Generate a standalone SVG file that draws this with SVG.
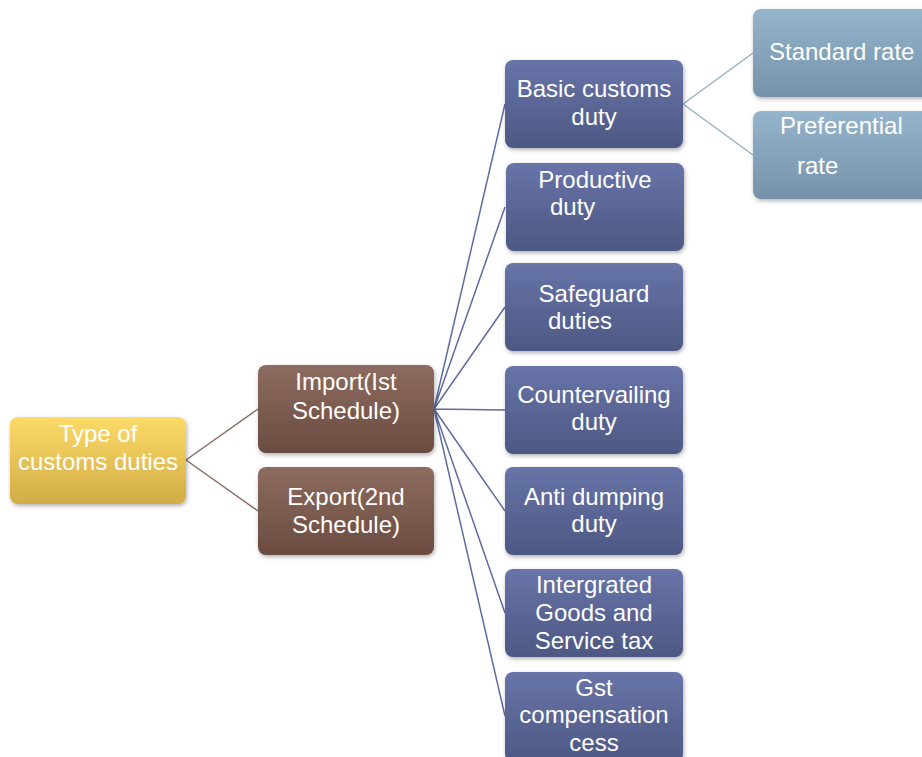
<svg xmlns="http://www.w3.org/2000/svg" width="922" height="757" viewBox="0 0 922 757">
  <defs>
    <linearGradient id="gYellow" x1="0" y1="0" x2="0" y2="1">
      <stop offset="0" stop-color="#fcda66"/>
      <stop offset="1" stop-color="#d2ac47"/>
    </linearGradient>
    <linearGradient id="gBrown" x1="0" y1="0" x2="0" y2="1">
      <stop offset="0" stop-color="#8d6c60"/>
      <stop offset="1" stop-color="#6b4b40"/>
    </linearGradient>
    <linearGradient id="gBlue" x1="0" y1="0" x2="0" y2="1">
      <stop offset="0" stop-color="#6874a8"/>
      <stop offset="1" stop-color="#4d5883"/>
    </linearGradient>
    <linearGradient id="gSky" x1="0" y1="0" x2="0" y2="1">
      <stop offset="0" stop-color="#95b5cd"/>
      <stop offset="1" stop-color="#7592aa"/>
    </linearGradient>
    <filter id="shadow" x="-10%" y="-10%" width="125%" height="130%">
      <feDropShadow dx="1" dy="2" stdDeviation="2" flood-color="#000" flood-opacity="0.3"/>
    </filter>
  </defs>
  <style>
    .box { filter: url(#shadow); }
    .lbl { font-family: "Liberation Sans", Arial, sans-serif; font-size: 24px; fill: #ffffff; text-anchor: middle; }
    .lft { text-anchor: start; }
    .c-brown { stroke: #8b6b61; stroke-width: 1.5; fill: none; }
    .c-blue { stroke: #5f6ba1; stroke-width: 1.5; fill: none; }
    .c-sky { stroke: #96b3c9; stroke-width: 1.5; fill: none; }
  </style>

  <rect width="922" height="757" fill="#ffffff"/>

  <g id="connectors">
    <path class="c-brown" d="M186,460 L258,409 M186,460 L258,511"/>
    <path class="c-blue" d="M434,409 L505,104 M434,409 L505,207 M434,409 L505,307 M434,409 L505,410 M434,409 L505,511 M434,409 L505,613 M434,409 L505,716"/>
    <path class="c-sky" d="M683,104 L753,53 M683,104 L753,155"/>
  </g>

  <g id="root">
    <rect class="box" x="10" y="417" width="176" height="87" rx="8" fill="url(#gYellow)"/>
    <text class="lbl" x="98" y="442">Type of</text>
    <text class="lbl" x="98" y="470">customs duties</text>
  </g>

  <g id="import">
    <rect class="box" x="258" y="365" width="176" height="88" rx="8" fill="url(#gBrown)"/>
    <text class="lbl" x="346" y="390">Import(Ist</text>
    <text class="lbl" x="346" y="419">Schedule)</text>
  </g>

  <g id="export">
    <rect class="box" x="258" y="467" width="176" height="88" rx="8" fill="url(#gBrown)"/>
    <text class="lbl" x="346" y="505">Export(2nd</text>
    <text class="lbl" x="346" y="533">Schedule)</text>
  </g>

  <g id="basic">
    <rect class="box" x="505" y="60" width="178" height="88" rx="8" fill="url(#gBlue)"/>
    <text class="lbl" x="594" y="97">Basic customs</text>
    <text class="lbl" x="594" y="125">duty</text>
  </g>

  <g id="productive">
    <rect class="box" x="506" y="163" width="178" height="88" rx="8" fill="url(#gBlue)"/>
    <text class="lbl" x="595" y="188">Productive</text>
    <text class="lbl lft" x="550" y="215">duty</text>
  </g>

  <g id="safeguard">
    <rect class="box" x="505" y="263" width="178" height="88" rx="8" fill="url(#gBlue)"/>
    <text class="lbl" x="594" y="302">Safeguard</text>
    <text class="lbl lft" x="548" y="329">duties</text>
  </g>

  <g id="countervailing">
    <rect class="box" x="505" y="366" width="178" height="88" rx="8" fill="url(#gBlue)"/>
    <text class="lbl" x="594" y="403">Countervailing</text>
    <text class="lbl" x="594" y="430">duty</text>
  </g>

  <g id="antidumping">
    <rect class="box" x="505" y="467" width="178" height="88" rx="8" fill="url(#gBlue)"/>
    <text class="lbl" x="594" y="505">Anti dumping</text>
    <text class="lbl" x="594" y="532">duty</text>
  </g>

  <g id="igst">
    <rect class="box" x="505" y="569" width="178" height="88" rx="8" fill="url(#gBlue)"/>
    <text class="lbl" x="594" y="593">Intergrated</text>
    <text class="lbl" x="594" y="621">Goods and</text>
    <text class="lbl" x="594" y="649">Service tax</text>
  </g>

  <g id="gstcess">
    <rect class="box" x="505" y="672" width="178" height="90" rx="8" fill="url(#gBlue)"/>
    <text class="lbl" x="594" y="696">Gst</text>
    <text class="lbl" x="594" y="723">compensation</text>
    <text class="lbl" x="594" y="751">cess</text>
  </g>

  <g id="standard">
    <rect class="box" x="753" y="9" width="185" height="88" rx="8" fill="url(#gSky)"/>
    <text class="lbl lft" x="769" y="60">Standard rate</text>
  </g>

  <g id="preferential">
    <rect class="box" x="753" y="111" width="185" height="88" rx="8" fill="url(#gSky)"/>
    <text class="lbl lft" x="780" y="134">Preferential</text>
    <text class="lbl lft" x="797" y="174">rate</text>
  </g>
</svg>
